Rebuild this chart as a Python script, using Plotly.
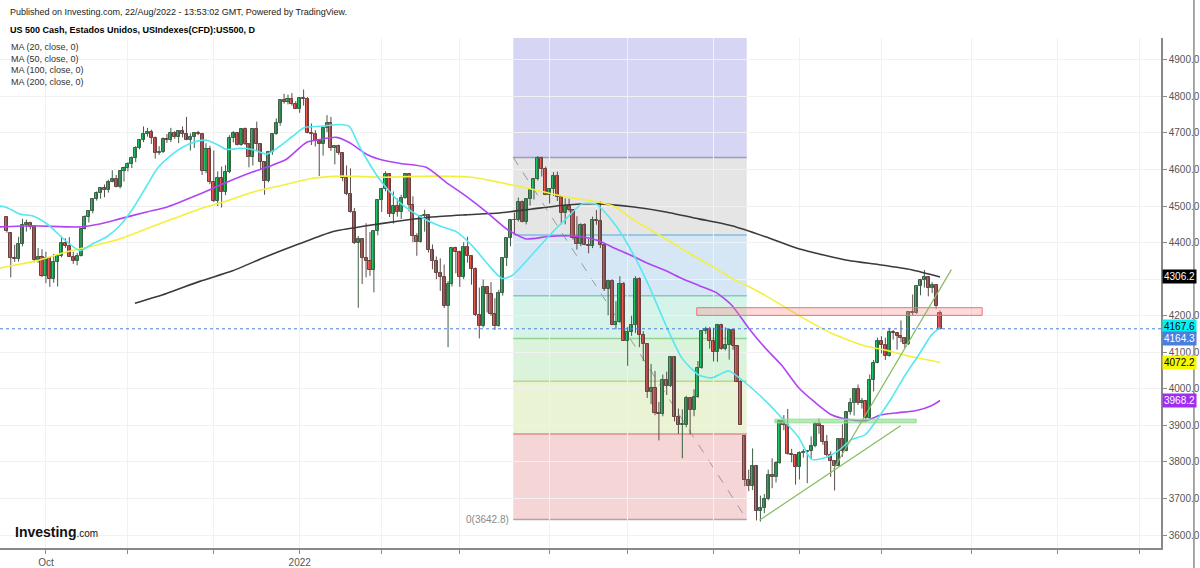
import pandas as pd
import plotly.graph_objects as go

# ---------------- data ----------------
opens = [4470, 4425, 4358, 4354, 4395, 4448, 4455, 4443, 4353, 4360,
         4308, 4357, 4301, 4346, 4363, 4399, 4391, 4361, 4351, 4364,
         4438, 4471, 4486, 4520, 4537, 4550, 4545, 4567, 4575, 4551,
         4597, 4605, 4614, 4631, 4660, 4680, 4697, 4702, 4685, 4646,
         4649, 4683, 4682, 4701, 4689, 4705, 4698, 4682, 4690, 4701,
         4698, 4595, 4655, 4567, 4513, 4577, 4538, 4592, 4686, 4701,
         4668, 4712, 4669, 4635, 4710, 4669, 4621, 4568, 4649, 4697,
         4726, 4791, 4786, 4793, 4778, 4766, 4797, 4794, 4701, 4696,
         4677, 4670, 4713, 4726, 4660, 4663, 4645, 4577, 4533, 4483,
         4398, 4410, 4357, 4350, 4326, 4432, 4516, 4546, 4589, 4477,
         4501, 4484, 4522, 4587, 4504, 4419, 4402, 4472, 4476, 4380,
         4349, 4318, 4305, 4226, 4288, 4385, 4374, 4306, 4387, 4364,
         4329, 4201, 4171, 4278, 4260, 4204, 4173, 4262, 4358, 4412,
         4463, 4461, 4512, 4456, 4520, 4543, 4575, 4632, 4602, 4530,
         4546, 4583, 4525, 4481, 4500, 4488, 4413, 4397, 4447, 4393,
         4392, 4463, 4459, 4394, 4272, 4296, 4175, 4184, 4288, 4132,
         4155, 4175, 4300, 4147, 4123, 3991, 4001, 3935, 3930, 4024,
         4008, 4088, 3924, 3901, 3901, 3974, 3941, 3979, 4058, 4158,
         4163, 4132, 4101, 4176, 4109, 4121, 4161, 4116, 4018, 3870,
         3750, 3735, 3790, 3667, 3675, 3700, 3765, 3760, 3796, 3912,
         3901, 3821, 3819, 3785, 3825, 3828, 3831, 3845, 3903, 3899,
         3855, 3819, 3802, 3790, 3863, 3831, 3937, 3960, 3999, 3962,
         3967, 3921, 4024, 4072, 4130, 4119, 4091, 4155, 4152, 4145,
         4140, 4122, 4210, 4208, 4280, 4297, 4305, 4275, 4284, 4207]
highs = [4471, 4428, 4394, 4416, 4465, 4463, 4457, 4445, 4385, 4382,
         4375, 4360, 4369, 4365, 4418, 4412, 4415, 4375, 4372, 4439,
         4475, 4486, 4520, 4540, 4551, 4559, 4572, 4598, 4585, 4598,
         4608, 4620, 4636, 4664, 4683, 4718, 4714, 4709, 4690, 4664,
         4688, 4697, 4714, 4705, 4708, 4718, 4744, 4699, 4702, 4706,
         4700, 4672, 4665, 4652, 4595, 4608, 4612, 4694, 4705, 4703,
         4713, 4715, 4672, 4712, 4731, 4672, 4622, 4651, 4698, 4740,
         4791, 4807, 4805, 4809, 4787, 4797, 4819, 4798, 4726, 4708,
         4680, 4714, 4749, 4744, 4666, 4668, 4648, 4611, 4603, 4495,
         4418, 4412, 4453, 4429, 4432, 4517, 4550, 4595, 4590, 4540,
         4521, 4531, 4590, 4590, 4527, 4426, 4472, 4490, 4478, 4395,
         4362, 4357, 4340, 4295, 4385, 4389, 4378, 4401, 4416, 4366,
         4332, 4277, 4299, 4280, 4292, 4248, 4271, 4358, 4412, 4465,
         4482, 4523, 4515, 4521, 4546, 4576, 4637, 4635, 4608, 4549,
         4593, 4594, 4528, 4521, 4520, 4490, 4472, 4453, 4453, 4410,
         4471, 4489, 4513, 4398, 4299, 4300, 4240, 4308, 4292, 4169,
         4200, 4308, 4305, 4158, 4125, 4068, 4049, 3964, 4039, 4047,
         4090, 4090, 3946, 3944, 3981, 3976, 3999, 4076, 4158, 4170,
         4169, 4167, 4178, 4178, 4168, 4165, 4163, 4119, 4025, 3872,
         3779, 3837, 3792, 3708, 3712, 3779, 3810, 3802, 3913, 3928,
         3945, 3836, 3820, 3829, 3835, 3832, 3870, 3910, 3919, 3900,
         3874, 3829, 3803, 3863, 3903, 3939, 3975, 3999, 4012, 3975,
         3969, 4039, 4079, 4140, 4144, 4140, 4167, 4161, 4153, 4187,
         4141, 4211, 4258, 4280, 4301, 4325, 4306, 4292, 4286, 4215]
lows = [4427, 4305, 4347, 4348, 4390, 4430, 4436, 4346, 4345, 4306,
        4289, 4279, 4290, 4280, 4360, 4386, 4360, 4342, 4338, 4362,
        4436, 4455, 4480, 4515, 4520, 4524, 4537, 4565, 4551, 4548,
        4567, 4595, 4604, 4620, 4655, 4675, 4690, 4670, 4630, 4640,
        4645, 4673, 4675, 4684, 4672, 4688, 4680, 4652, 4659, 4694,
        4585, 4590, 4560, 4511, 4500, 4496, 4530, 4590, 4674, 4666,
        4665, 4667, 4606, 4611, 4651, 4600, 4531, 4565, 4640, 4695,
        4720, 4780, 4778, 4775, 4766, 4755, 4775, 4699, 4667, 4663,
        4582, 4638, 4702, 4651, 4614, 4640, 4568, 4530, 4482, 4396,
        4222, 4287, 4305, 4309, 4264, 4420, 4484, 4540, 4470, 4452,
        4471, 4465, 4520, 4485, 4401, 4364, 4400, 4430, 4373, 4327,
        4300, 4268, 4221, 4114, 4280, 4316, 4279, 4300, 4345, 4285,
        4199, 4138, 4168, 4209, 4200, 4161, 4170, 4255, 4336, 4390,
        4425, 4458, 4455, 4450, 4501, 4518, 4570, 4581, 4530, 4507,
        4528, 4514, 4450, 4450, 4485, 4408, 4381, 4390, 4393, 4371,
        4385, 4449, 4385, 4268, 4201, 4174, 4163, 4180, 4131, 4063,
        4145, 4153, 4114, 4076, 3975, 3958, 3928, 3859, 3925, 3983,
        4005, 3911, 3877, 3810, 3895, 3875, 3925, 3975, 4055, 4150,
        4110, 4075, 4074, 4107, 4105, 4080, 4107, 4018, 3901, 3734,
        3720, 3723, 3640, 3637, 3660, 3695, 3728, 3744, 3795, 3887,
        3820, 3799, 3738, 3752, 3812, 3742, 3809, 3840, 3877, 3847,
        3815, 3759, 3722, 3788, 3814, 3829, 3929, 3927, 3956, 3946,
        3910, 3915, 3993, 4070, 4097, 4079, 4088, 4135, 4107, 4128,
        4112, 4120, 4201, 4205, 4256, 4277, 4253, 4262, 4219, 4162]
closes = [4432, 4358, 4354, 4395, 4448, 4455, 4443, 4353, 4360, 4308,
          4357, 4301, 4346, 4363, 4399, 4391, 4361, 4351, 4364, 4438,
          4471, 4486, 4520, 4537, 4550, 4545, 4567, 4575, 4551, 4597,
          4605, 4614, 4631, 4660, 4680, 4697, 4702, 4685, 4646, 4649,
          4683, 4682, 4701, 4689, 4705, 4698, 4682, 4690, 4701, 4698,
          4595, 4655, 4567, 4513, 4577, 4538, 4592, 4686, 4701, 4668,
          4712, 4669, 4635, 4710, 4669, 4621, 4568, 4649, 4697, 4726,
          4791, 4786, 4793, 4778, 4766, 4797, 4794, 4701, 4696, 4677,
          4670, 4713, 4726, 4660, 4663, 4645, 4577, 4533, 4483, 4398,
          4410, 4357, 4350, 4326, 4432, 4516, 4546, 4589, 4477, 4501,
          4484, 4522, 4587, 4504, 4419, 4402, 4472, 4476, 4380, 4349,
          4318, 4305, 4226, 4288, 4385, 4374, 4306, 4387, 4364, 4329,
          4201, 4171, 4278, 4260, 4204, 4173, 4262, 4358, 4412, 4463,
          4461, 4512, 4456, 4520, 4543, 4575, 4632, 4602, 4530, 4546,
          4583, 4525, 4481, 4500, 4488, 4413, 4397, 4447, 4393, 4392,
          4463, 4459, 4394, 4272, 4296, 4175, 4184, 4288, 4132, 4155,
          4175, 4300, 4147, 4123, 3991, 4001, 3935, 3930, 4024, 4008,
          4088, 3924, 3901, 3901, 3974, 3941, 3979, 4058, 4158, 4163,
          4132, 4101, 4176, 4109, 4121, 4161, 4116, 4018, 3901, 3750,
          3735, 3790, 3667, 3675, 3700, 3765, 3760, 3796, 3912, 3901,
          3821, 3819, 3785, 3825, 3828, 3831, 3845, 3903, 3899, 3855,
          3819, 3802, 3790, 3863, 3831, 3937, 3960, 3999, 3962, 3967,
          3921, 4024, 4072, 4130, 4119, 4091, 4155, 4152, 4145, 4140,
          4122, 4210, 4208, 4280, 4297, 4305, 4275, 4284, 4228, 4164.3]

# moving averages, sampled along the bar axis (bar index, value)
ma20_bar = [-1.8, -0.2, 3.4, 6.7, 10.3, 15.4, 18.7, 22.0, 25.6, 28.9, 32.2, 35.8, 38.4, 41.7, 45.0,
            48.6, 51.2, 53.7, 56.3, 59.6, 62.9, 66.5, 69.8, 73.2, 76.2, 80.1, 85.2, 87.7, 90.3,
            95.4, 100.5, 105.6, 110.7, 115.1, 119.2, 123.5, 126.8, 129.4, 134.5, 138.9, 143.2,
            147.3, 150.9, 152.4, 156.0, 160.1, 164.4, 168.8, 172.9, 177.2, 180.5, 184.9, 189.2,
            194.3, 198.4, 202.8, 206.1, 209.7, 213.0, 216.3, 219.9, 223.2, 226.6, 230.1, 233.5,
            236.8, 239]
ma20_val = [4500, 4497, 4478, 4473, 4451, 4402, 4378, 4397, 4416, 4446, 4492, 4555, 4601, 4636, 4661,
            4677, 4680, 4669, 4655, 4658, 4655, 4642, 4663, 4691, 4715, 4718, 4723, 4718, 4663,
            4574, 4511, 4473, 4446, 4430, 4391, 4337, 4302, 4310, 4367, 4419, 4465,
            4506, 4506, 4492, 4446, 4375, 4283, 4174, 4084, 4038, 4030, 4049, 4016,
            3967, 3921, 3867, 3807, 3812, 3831, 3861, 3875, 3921, 3975, 4038, 4092,
            4147, 4167.6]
ma50_bar = [-1.8, 6.7, 18.7, 23.8, 28.9, 35.8, 40.9, 49.4, 56.3, 62.9, 66.5, 71.6, 76.7, 80.1, 84.4,
            87.7, 92.1, 95.4, 100.5, 107.4, 112.5, 117.6, 122.8, 127.9, 133.0, 138.1, 143.2, 147.3,
            151.6, 156.0, 160.1, 164.4, 168.8, 172.9, 177.2, 181.6, 185.7, 190.0, 194.3, 198.4,
            202.8, 207.1, 211.2, 215.6, 219.9, 224.0, 228.4, 232.7, 236.8, 239]
ma50_val = [4443, 4446, 4443, 4451, 4465, 4484, 4497, 4533, 4565, 4593, 4606, 4628, 4674, 4682, 4688,
            4674, 4642, 4628, 4617, 4606, 4565, 4527, 4484, 4438, 4410, 4416, 4419, 4416,
            4405, 4383, 4364, 4342, 4323, 4302, 4283, 4264, 4228, 4166, 4111, 4065,
            4003, 3962, 3929, 3916, 3913, 3929, 3935, 3940, 3954, 3968.2]
ma100_bar = [-1.8, -0.2, 6.7, 15.4, 22.0, 28.9, 35.8, 42.5, 49.4, 56.3, 62.9, 69.8, 78.3, 85.9, 96.2,
             108.9, 119.2, 126.1, 134.5, 143.2, 151.6, 156.0, 160.1, 164.4, 168.8, 172.9, 177.2,
             181.6, 185.7, 190.0, 194.3, 202.8, 211.2, 219.9, 225.0, 230.1, 239]
ma100_val = [4330, 4334, 4348, 4375, 4391, 4410, 4438, 4465, 4492, 4514, 4538, 4555, 4576, 4582, 4579,
             4582, 4579, 4565, 4546, 4525, 4511, 4497, 4465, 4438, 4410, 4383, 4356,
             4329, 4302, 4280, 4255, 4201, 4152, 4117, 4106, 4092, 4072.2]
ma200_bar = [32.8, 40.9, 49.4, 57.8, 66.5, 74.9, 83.4, 92.1, 100.5, 108.9, 117.6, 126.1, 134.5, 143.2,
             151.6, 160.1, 168.8, 177.2, 185.7, 194.3, 202.8, 215.6, 223.2, 231.7, 239]
ma200_val = [4234, 4261, 4294, 4323, 4362, 4397, 4430, 4446, 4459, 4470, 4476, 4481, 4492, 4503,
             4506, 4498, 4484, 4465, 4446, 4416, 4383, 4351, 4340, 4326, 4306.2]

last_price = 4164.3
price_ticks = [3600, 3700, 3800, 3900, 4000, 4100, 4200, 4300, 4400, 4500, 4600, 4700, 4800, 4900]
hidden_price_ticks = [4300]          # covered by the MA200 value tag in the reference
axis_labels = [4306.2, 4167.6, 4164.3, 4072.2, 3968.2]
axis_label_bg = ["#000000", "#00f2f2", "#4a7fdc", "#f7f700", "#a02ef2"]
axis_label_fg = ["#ffffff", "#000000", "#ffffff", "#000000", "#ffffff"]
axis_label_shift = [0, 1, -10, 0, 0]

fib_bar = [129.7, 189.5]
fib_high, fib_low = 4633.0, 3642.8
fib_levels = [0, 0.236, 0.382, 0.5, 0.618, 0.786, 1, 1.618]
fib_fill = ["#f4d3d3", "#e9f3d3", "#d8f2d8", "#d3f2e8", "#d3e6f3", "#e4e4e4", "#d4d4f3"]
fib_line = ["#a8a8a8", "#dc8e8e", "#b7da86", "#8fd48f", "#80cdb6", "#86badc", "#9c9cb6", "#9c9cb6"]

resist_bar = [176.7, 249.8]
resist_zone = [4201, 4222]
support_bar = [196.7, 232.9]
support_zone = [3907, 3917]
trend1_bar = [192.8, 228.9]
trend1_val = [3641, 3899]
trend2_bar = [211.7, 241.9]
trend2_val = [3780, 4326]

# trading calendar (CFD: all weekdays except two full closures)
all_days = pd.bdate_range("2021-09-17", "2022-11-30")
all_days = all_days[~all_days.isin(pd.to_datetime(["2021-12-24", "2022-04-15"]))]
bars = list(range(len(closes)))
pos = pd.Series(range(len(all_days)), index=all_days)
firsts = pos.groupby([all_days.year, all_days.month]).first()
tick_vals, tick_text = [], []
for (yy, mm), b in firsts.items():
    if (yy, mm) < (2021, 10):
        continue
    tick_vals.append(b)
    tick_text.append("Oct" if (yy, mm) == (2021, 10) else ("2022" if (yy, mm) == (2022, 1) else ""))

FONT = "Liberation Sans, Arial, sans-serif"
UP_FILL, UP_LINE = "#1fc463", "#3d5f46"
DN_FILL, DN_LINE = "#f05a50", "#6b3f3f"

fig = go.Figure()

# candles: wicks then bodies
for up in (True, False):
    wx, wy = [], []
    for i, (o, h, l, c) in enumerate(zip(opens, highs, lows, closes)):
        if (c >= o) == up:
            wx += [i, i, None]
            wy += [l, h, None]
    fig.add_trace(go.Scatter(x=wx, y=wy, mode="lines", hoverinfo="skip",
                             line=dict(color=UP_LINE if up else "#5d4a4a", width=1)))
body_base = [min(o, c) for o, c in zip(opens, closes)]
body_len = [max(abs(c - o), 2.0) for o, c in zip(opens, closes)]
body_fill = [UP_FILL if c >= o else DN_FILL for o, c in zip(opens, closes)]
body_line = [UP_LINE if c >= o else DN_LINE for o, c in zip(opens, closes)]
fig.add_trace(go.Bar(x=bars, y=body_len, base=body_base, width=0.78, hoverinfo="skip",
                     marker=dict(color=body_fill, line=dict(color=body_line, width=1))))

for bx, vy, col in [(ma200_bar, ma200_val, "#3a3a3a"), (ma100_bar, ma100_val, "#f3f03c"),
                    (ma50_bar, ma50_val, "#b044f4"), (ma20_bar, ma20_val, "#55e8f2")]:
    fig.add_trace(go.Scatter(x=bx, y=vy, mode="lines", hoverinfo="skip",
                             line=dict(color=col, width=1.6, shape="spline", smoothing=0.6)))

shapes = []
rng = fib_high - fib_low
for i in range(len(fib_levels) - 1):
    shapes.append(dict(type="rect", xref="x", yref="y", x0=fib_bar[0], x1=fib_bar[1],
                       y0=fib_low + fib_levels[i] * rng, y1=fib_low + fib_levels[i + 1] * rng,
                       fillcolor=fib_fill[i], line=dict(width=0), layer="below", opacity=0.95))
for i, lv in enumerate(fib_levels):
    shapes.append(dict(type="line", xref="x", yref="y", x0=fib_bar[0], x1=fib_bar[1],
                       y0=fib_low + lv * rng, y1=fib_low + lv * rng,
                       line=dict(color=fib_line[i], width=1.5), layer="below"))
shapes.append(dict(type="line", xref="x", yref="y", x0=fib_bar[0], x1=fib_bar[1], y0=fib_high, y1=fib_low,
                   line=dict(color="#9a9a9a", width=1, dash="dash"), layer="below"))
shapes.append(dict(type="rect", xref="x", yref="y", x0=resist_bar[0], x1=resist_bar[1],
                   y0=resist_zone[0], y1=resist_zone[1], fillcolor="rgba(246,140,140,0.32)",
                   line=dict(color="#f07070", width=1)))
shapes.append(dict(type="rect", xref="x", yref="y", x0=support_bar[0], x1=support_bar[1],
                   y0=support_zone[0], y1=support_zone[1], fillcolor="rgba(120,220,120,0.55)",
                   line=dict(color="#96dc96", width=1)))
shapes.append(dict(type="line", xref="x", yref="y", x0=trend1_bar[0], x1=trend1_bar[1],
                   y0=trend1_val[0], y1=trend1_val[1], line=dict(color="#86ba62", width=1.2)))
shapes.append(dict(type="line", xref="x", yref="y", x0=trend2_bar[0], x1=trend2_bar[1],
                   y0=trend2_val[0], y1=trend2_val[1], line=dict(color="#86ba62", width=1.2)))
shapes.append(dict(type="line", xref="paper", yref="y", x0=0, x1=1, y0=last_price, y1=last_price,
                   line=dict(color="#4a7fdc", width=1, dash="dot")))
shapes.append(dict(type="line", xref="paper", yref="paper", x0=1196 / 1163, x1=1196 / 1163, y0=-0.04, y1=1.08,
                   line=dict(color="#8a8a8a", width=1.5)))

ann = []
def ptxt(text, px, py, size, color="#333333", bold=False, anchor="left"):
    ann.append(dict(xref="paper", yref="paper", x=px / 1163, y=(551 - py) / 513,
                    text=("<b>%s</b>" % text) if bold else text,
                    showarrow=False, xanchor=anchor, yanchor="middle",
                    font=dict(family=FONT, size=size, color=color)))

ptxt("Published on Investing.com, 22/Aug/2022 - 13:53:02 GMT, Powered by TradingView.", 8, 12, 9, "#222222")
ptxt("US 500 Cash, Estados Unidos, USIndexes(CFD):US500, D", 8, 30, 9, "#000000", bold=True)
for k, t in enumerate(["MA (20, close, 0)", "MA (50, close, 0)", "MA (100, close, 0)", "MA (200, close, 0)"]):
    ptxt(t, 9, 47 + k * 11.8, 9, "#333333")
ann.append(dict(xref="paper", yref="paper", x=13 / 1163, y=(551 - 535) / 513,
                text="<b>Investing</b><span style='font-size:10px'>.com</span>", showarrow=False,
                xanchor="left", yanchor="middle", font=dict(family=FONT, size=14, color="#111111")))
ann.append(dict(xref="x", yref="y", x=fib_bar[0], y=fib_low, text="0(%.1f)" % fib_low, showarrow=False,
                xanchor="right", yanchor="middle", xshift=-2, font=dict(family=FONT, size=10, color="#8a8a8a")))
for v, bg, fg, sh in zip(axis_labels, axis_label_bg, axis_label_fg, axis_label_shift):
    ann.append(dict(xref="paper", yref="y", x=1, y=v, yshift=sh, text="%.1f" % v, showarrow=False,
                    xanchor="left", yanchor="middle", xshift=1, bgcolor=bg, borderpad=1,
                    font=dict(family=FONT, size=10, color=fg)))

fig.update_layout(
    width=1200, height=568, margin=dict(l=0, r=37, t=38, b=17),
    paper_bgcolor="white", plot_bgcolor="white", showlegend=False,
    shapes=shapes, annotations=ann, hovermode=False, bargap=0,
    xaxis=dict(range=[-1.76, 295.6], tickvals=tick_vals, ticktext=tick_text, ticks="outside", ticklen=4,
               tickcolor="#888888", showline=True, linecolor="#888888", linewidth=1.5, showgrid=True,
               gridcolor="#f1f1f1", zeroline=False,
               tickfont=dict(family=FONT, size=10, color="#555555")),
    yaxis=dict(range=[3564.6, 4959.8], side="right", tickvals=price_ticks,
               ticktext=["" if p in hidden_price_ticks else "%.1f" % p for p in price_ticks],
               ticks="outside", ticklen=4, tickcolor="#888888", showline=True, linecolor="#888888",
               linewidth=1.5, showgrid=True, gridcolor="#f1f1f1", zeroline=False,
               tickfont=dict(family=FONT, size=10, color="#555555")),
)

fig.write_html("out.html")
